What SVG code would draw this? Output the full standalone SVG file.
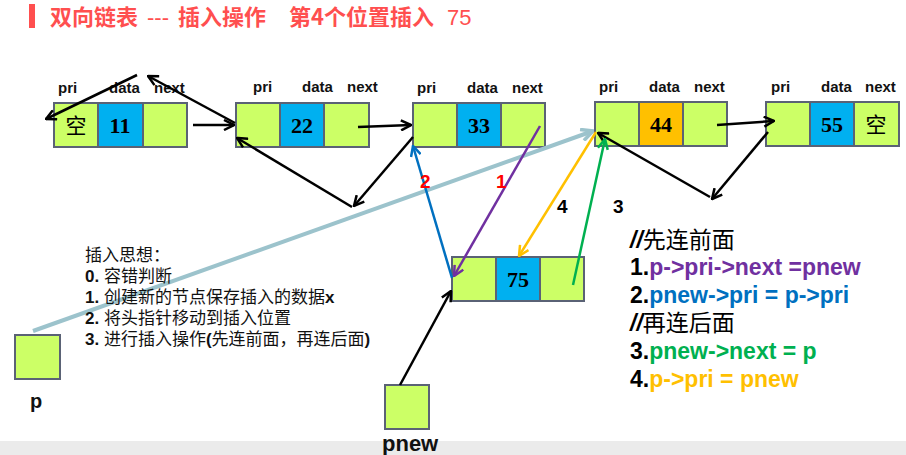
<svg xmlns="http://www.w3.org/2000/svg" width="906" height="455" viewBox="0 0 906 455">
<defs>
<style>
.cell{stroke:#5a6275;stroke-width:2}
.g{fill:#ccff66}.b{fill:#00b0f0}.o{fill:#ffc000}
.lbl{font-family:"Liberation Sans",Arial,sans-serif;font-weight:bold;font-size:15px;fill:#111}
.num{font-family:"Liberation Serif","Times New Roman",serif;font-weight:bold;font-size:22px;fill:#000;text-anchor:middle}
.kong{font-family:"Noto Sans CJK SC",sans-serif;font-size:21px;fill:#000;text-anchor:middle}
.blk{fill:none;stroke:#000;stroke-width:2.5}
.cn{font-family:"Liberation Sans","Noto Sans CJK SC",sans-serif;font-size:17px;fill:#111}
.code{font-family:"Liberation Sans","Noto Sans CJK SC",sans-serif;font-size:23px;font-weight:bold}
.step{font-family:"Liberation Sans",Arial,sans-serif;font-size:19px;font-weight:bold}
</style>
<marker id="ak" viewBox="0 0 12 12" refX="11" refY="6" markerWidth="12" markerHeight="12" markerUnits="userSpaceOnUse" orient="auto"><path d="M1,1 L11,6 L1,11" fill="none" stroke="#000" stroke-width="2.5"/></marker>
<marker id="alb" viewBox="0 0 12 12" refX="11" refY="6" markerWidth="14" markerHeight="14" markerUnits="userSpaceOnUse" orient="auto"><path d="M1,1 L11,6 L1,11" fill="none" stroke="#9cc3cc" stroke-width="3"/></marker>
<marker id="ap" viewBox="0 0 12 12" refX="11" refY="6" markerWidth="12" markerHeight="12" markerUnits="userSpaceOnUse" orient="auto"><path d="M1,1 L11,6 L1,11" fill="none" stroke="#7030a0" stroke-width="2.5"/></marker>
<marker id="abl" viewBox="0 0 12 12" refX="11" refY="6" markerWidth="12" markerHeight="12" markerUnits="userSpaceOnUse" orient="auto"><path d="M1,1 L11,6 L1,11" fill="none" stroke="#0070c0" stroke-width="2.5"/></marker>
<marker id="ay" viewBox="0 0 12 12" refX="11" refY="6" markerWidth="12" markerHeight="12" markerUnits="userSpaceOnUse" orient="auto"><path d="M1,1 L11,6 L1,11" fill="none" stroke="#ffc000" stroke-width="2.5"/></marker>
<marker id="ag" viewBox="0 0 12 12" refX="11" refY="6" markerWidth="12" markerHeight="12" markerUnits="userSpaceOnUse" orient="auto"><path d="M1,1 L11,6 L1,11" fill="none" stroke="#00b050" stroke-width="2.5"/></marker>
</defs>
<rect width="906" height="455" fill="#fff"/>
<rect x="0" y="441" width="906" height="14" fill="#ebebeb"/>

<g id="title">
<rect x="29" y="4" width="6" height="24" fill="#ff4f4f"/>
<text y="25" font-family="'Noto Sans CJK SC','Liberation Sans',sans-serif" font-size="22" fill="#ff4f4f"><tspan x="50" font-weight="bold">双向链表</tspan><tspan x="147" font-family="'Liberation Sans',sans-serif">---</tspan><tspan x="178" font-weight="bold">插入操作</tspan><tspan x="289" font-weight="bold">第4个位置插入</tspan><tspan x="447" font-family="'Liberation Sans',sans-serif">75</tspan></text>
</g>

<g id="node1">
<text class="lbl" x="58" y="93">pri</text><text class="lbl" x="109" y="93">data</text><text class="lbl" x="154" y="93">next</text>
<rect class="cell g" x="54" y="103" width="44" height="44"/><rect class="cell b" x="98" y="103" width="45" height="44"/><rect class="cell g" x="143" y="103" width="44" height="44"/>
<text class="kong" x="76" y="133">空</text><text class="num" x="120" y="133">11</text>
</g>
<g id="node2">
<text class="lbl" x="253" y="92">pri</text><text class="lbl" x="302" y="92">data</text><text class="lbl" x="347" y="92">next</text>
<rect class="cell g" x="236" y="103" width="44" height="44"/><rect class="cell b" x="280" y="103" width="44" height="44"/><rect class="cell g" x="324" y="103" width="45" height="44"/>
<text class="num" x="302" y="133">22</text>
</g>
<g id="node3">
<text class="lbl" x="417" y="93">pri</text><text class="lbl" x="467" y="93">data</text><text class="lbl" x="512" y="93">next</text>
<rect class="cell g" x="413" y="103" width="44" height="44"/><rect class="cell b" x="457" y="103" width="44" height="44"/><rect class="cell g" x="501" y="103" width="44" height="44"/>
<text class="num" x="479" y="133">33</text>
</g>
<g id="node4">
<text class="lbl" x="599" y="92">pri</text><text class="lbl" x="649" y="92">data</text><text class="lbl" x="694" y="92">next</text>
<rect class="cell g" x="595" y="102" width="44" height="44"/><rect class="cell o" x="639" y="102" width="44" height="44"/><rect class="cell g" x="683" y="102" width="44" height="44"/>
<text class="num" x="661" y="132">44</text>
</g>
<g id="node5">
<text class="lbl" x="771" y="92">pri</text><text class="lbl" x="821" y="92">data</text><text class="lbl" x="865" y="92">next</text>
<rect class="cell g" x="766" y="102" width="44" height="44"/><rect class="cell b" x="810" y="102" width="44" height="44"/><rect class="cell g" x="854" y="102" width="45" height="44"/>
<text class="num" x="832" y="132">55</text><text class="kong" x="876" y="132">空</text>
</g>
<g id="newnode">
<rect class="cell g" x="452" y="257" width="44" height="44"/><rect class="cell b" x="496" y="257" width="44" height="44"/><rect class="cell g" x="540" y="257" width="44" height="44"/>
<text class="num" x="518" y="287">75</text>
</g>
<g id="p">
<rect class="cell g" x="15" y="335" width="45" height="44"/>
<text x="30" y="408" font-family="'Liberation Sans',sans-serif" font-weight="bold" font-size="20" fill="#111">p</text>
</g>
<g id="pnew">
<rect class="cell g" x="385" y="385" width="44" height="44"/>
<text x="382" y="451" font-family="'Liberation Sans',sans-serif" font-weight="bold" font-size="22" fill="#111">pnew</text>
</g>

<g id="connectors">
<path class="blk" d="M137,75 L46,119" marker-end="url(#ak)"/>
<path class="blk" d="M235,123 L148,76" marker-end="url(#ak)"/>
<path class="blk" d="M193,125 L234,125" marker-end="url(#ak)"/>
<path class="blk" d="M358,127 L411,125" marker-end="url(#ak)"/>
<path class="blk" d="M413,137 L354,206" marker-end="url(#ak)"/>
<path class="blk" d="M352,207 L237,138" marker-end="url(#ak)"/>
<path class="blk" d="M717,125 L774,121" marker-end="url(#ak)"/>
<path class="blk" d="M768,132 L712,199" marker-end="url(#ak)"/>
<path class="blk" d="M710,197 L598,133" marker-end="url(#ak)"/>
<path class="blk" d="M400,385 L451,291" marker-end="url(#ak)"/>
<path d="M33,331 L593,131" fill="none" stroke="#9cc3cc" stroke-width="4" marker-end="url(#alb)"/>
<path d="M540,126 L454,276" fill="none" stroke="#7030a0" stroke-width="2.5" marker-end="url(#ap)"/>
<path d="M452,278 L413,146" fill="none" stroke="#0070c0" stroke-width="2.5" marker-end="url(#abl)"/>
<path d="M596,132 L519,256" fill="none" stroke="#ffc000" stroke-width="2.5" marker-end="url(#ay)"/>
<path d="M573,285 L605,139" fill="none" stroke="#00b050" stroke-width="2.5" marker-end="url(#ag)"/>
<text class="step" x="420" y="188" fill="#ff0000">2</text>
<text class="step" x="496" y="188" fill="#ff0000">1</text>
<text class="step" x="557" y="213" fill="#000">4</text>
<text class="step" x="613" y="213" fill="#000">3</text>
</g>

<g id="notes">
<text class="cn" x="85" y="261">插入思想：</text>
<text class="cn" x="85" y="282"><tspan font-weight="bold">0.</tspan> 容错判断</text>
<text class="cn" x="85" y="303"><tspan font-weight="bold">1.</tspan> 创建新的节点保存插入的数据<tspan font-weight="bold">x</tspan></text>
<text class="cn" x="85" y="324"><tspan font-weight="bold">2.</tspan> 将头指针移动到插入位置</text>
<text class="cn" x="85" y="345"><tspan font-weight="bold">3.</tspan> 进行插入操作<tspan font-weight="bold">(</tspan>先连前面，再连后面<tspan font-weight="bold">)</tspan></text>
</g>
<g id="code">
<text class="code" x="630" y="248" fill="#000"><tspan font-style="italic">//</tspan><tspan font-weight="normal">先连前面</tspan></text>
<text class="code" x="630" y="275" fill="#000">1.<tspan fill="#7030a0">p-&gt;pri-&gt;next =pnew</tspan></text>
<text class="code" x="630" y="303" fill="#000">2.<tspan fill="#0070c0">pnew-&gt;pri = p-&gt;pri</tspan></text>
<text class="code" x="630" y="331" fill="#000"><tspan font-style="italic">//</tspan><tspan font-weight="normal">再连后面</tspan></text>
<text class="code" x="630" y="359" fill="#000">3.<tspan fill="#00b050">pnew-&gt;next = p</tspan></text>
<text class="code" x="630" y="387" fill="#000">4.<tspan fill="#ffc000">p-&gt;pri = pnew</tspan></text>
</g>
</svg>
